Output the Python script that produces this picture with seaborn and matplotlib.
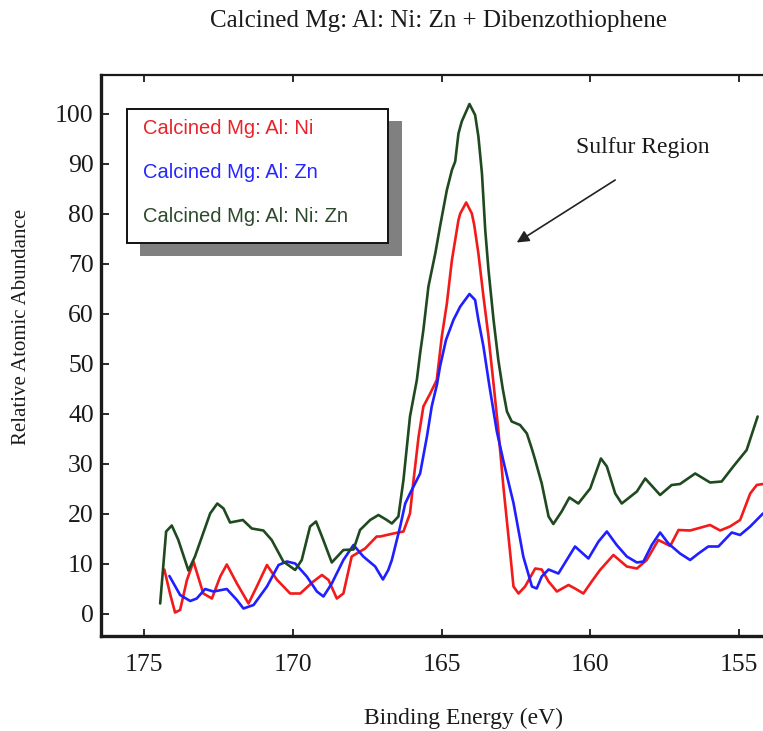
import matplotlib
matplotlib.use("Agg")
import matplotlib.pyplot as plt
from matplotlib.patches import Rectangle
import numpy as np
import pandas as pd
import seaborn as sns

# Binding energy (eV) and relative atomic abundance for each calcined sample
energy_ni = [174.32, 174.13, 173.96, 173.79, 173.56, 173.34, 173.01, 172.72, 172.44, 172.22,
             171.88, 171.49, 171.21, 170.87, 170.54, 170.09, 169.75, 169.31, 169.02, 168.80,
             168.52, 168.30, 168.02, 167.57, 167.18, 167.06, 166.62, 166.28, 166.06, 165.94,
             165.77, 165.61, 165.38, 165.16, 164.99, 164.82, 164.65, 164.43, 164.37, 164.17,
             163.98, 163.90, 163.76, 163.59, 163.42, 163.25, 163.09, 162.92, 162.69, 162.58,
             162.41, 162.19, 161.85, 161.63, 161.40, 161.12, 160.73, 160.51, 160.23, 159.95,
             159.67, 159.22, 158.77, 158.43, 158.10, 157.71, 157.31, 157.03, 156.64, 155.97,
             155.63, 155.30, 154.96, 154.62, 154.40, 154.19]
abund_ni = [8.9, 4.1, 0.3, 0.8, 6.8, 10.5, 4.1, 3.1, 7.5, 9.9,
            6.1, 2.1, 5.5, 9.8, 6.9, 4.1, 4.1, 6.5, 7.8, 6.8,
            3.1, 4.1, 11.5, 13.1, 15.5, 15.5, 16.1, 16.5, 20.1, 26.8,
            35.5, 41.5, 44.1, 46.8, 55.5, 62.1, 70.8, 78.8, 80.1, 82.3,
            80.1, 77.8, 72.1, 63.5, 55.5, 46.0, 36.8, 25.5, 12.1, 5.5,
            4.1, 5.5, 9.1, 8.9, 6.5, 4.5, 5.8, 5.1, 4.1, 6.5,
            8.8, 11.8, 9.5, 9.1, 10.8, 14.8, 13.6, 16.8, 16.7, 17.8,
            16.7, 17.5, 18.8, 24.1, 25.8, 26.0]

energy_zn = [174.15, 173.79, 173.45, 173.23, 172.95, 172.67, 172.22, 171.88, 171.66, 171.32,
             170.87, 170.48, 170.20, 169.92, 169.53, 169.19, 168.97, 168.69, 168.30, 167.96,
             167.63, 167.23, 166.97, 166.79, 166.67, 166.39, 166.22, 166.06, 165.72, 165.49,
             165.33, 165.15, 165.05, 164.85, 164.60, 164.37, 164.06, 163.87, 163.76, 163.59,
             163.40, 163.14, 162.90, 162.58, 162.25, 161.96, 161.80, 161.63, 161.40, 161.07,
             160.79, 160.51, 160.06, 159.72, 159.44, 159.11, 158.77, 158.43, 158.21, 157.93,
             157.65, 157.37, 156.98, 156.64, 156.36, 156.03, 155.69, 155.24, 154.96, 154.62,
             154.19]
abund_zn = [7.6, 3.8, 2.6, 3.1, 5.0, 4.5, 5.0, 2.8, 1.1, 1.8,
            5.5, 9.8, 10.5, 10.1, 7.5, 4.5, 3.5, 6.1, 10.8, 13.8,
            11.5, 9.5, 6.9, 8.8, 10.8, 17.5, 22.1, 24.1, 28.1, 35.5,
            41.5, 46.0, 49.5, 54.8, 58.8, 61.5, 64.0, 62.8, 58.8, 53.5,
            46.0, 36.5, 30.1, 22.2, 11.5, 5.5, 5.1, 7.5, 8.9, 8.1,
            10.8, 13.5, 11.1, 14.5, 16.5, 13.8, 11.5, 10.3, 10.5, 13.8,
            16.3, 14.1, 12.1, 10.8, 12.1, 13.5, 13.5, 16.3, 15.8, 17.5,
            20.1]

energy_nizn = [174.46, 174.26, 174.07, 173.85, 173.51, 173.29, 172.78, 172.54, 172.33, 172.11,
               171.68, 171.38, 170.99, 170.71, 170.32, 169.92, 169.70, 169.42, 169.22, 169.02,
               168.69, 168.30, 167.96, 167.74, 167.40, 167.12, 166.84, 166.67, 166.45, 166.28,
               166.06, 165.83, 165.72, 165.61, 165.44, 165.21, 165.05, 164.82, 164.65, 164.54,
               164.43, 164.32, 164.06, 163.87, 163.76, 163.64, 163.53, 163.42, 163.25, 163.09,
               162.94, 162.80, 162.64, 162.36, 162.13, 161.96, 161.85, 161.63, 161.40, 161.24,
               160.96, 160.70, 160.40, 160.00, 159.64, 159.44, 159.16, 158.94, 158.43, 158.15,
               157.65, 157.26, 156.98, 156.47, 155.97, 155.58, 155.19, 154.74, 154.37]
abund_nizn = [2.1, 16.5, 17.7, 14.8, 8.7, 11.5, 20.1, 22.1, 21.1, 18.3,
              18.8, 17.1, 16.7, 14.8, 10.5, 8.8, 10.8, 17.5, 18.5, 15.5,
              10.3, 12.8, 12.9, 16.8, 18.8, 19.8, 18.8, 18.1, 19.5, 26.8,
              39.5, 46.8, 52.1, 56.8, 65.5, 72.1, 77.5, 84.8, 88.8, 90.5,
              96.1, 98.5, 102.0, 99.8, 95.5, 88.1, 76.8, 68.8, 58.8, 50.8,
              45.0, 40.5, 38.5, 37.8, 36.1, 33.0, 30.8, 26.1, 19.5, 18.0,
              20.5, 23.3, 22.1, 25.1, 31.1, 29.5, 24.1, 22.1, 24.5, 27.1,
              23.8, 25.8, 26.0, 28.1, 26.3, 26.5, 29.5, 32.8, 39.5]

sample_labels = ["Calcined Mg: Al: Ni", "Calcined Mg: Al: Zn", "Calcined Mg: Al: Ni: Zn"]
line_colors = ["#f21a1a", "#1f1fff", "#1f4a1f"]
text_colors = ["#e8232a", "#2626ff", "#2d4a2d"]
x_ticks = [175, 170, 165, 160, 155]
y_ticks = [0, 10, 20, 30, 40, 50, 60, 70, 80, 90, 100]

frames = []
for lab, e, a in zip(sample_labels,
                     [energy_ni, energy_zn, energy_nizn],
                     [abund_ni, abund_zn, abund_nizn]):
    frames.append(pd.DataFrame({"energy": e, "abundance": a, "sample": lab}))
spectra = pd.concat(frames, ignore_index=True)

sns.set_theme(style="white")
plt.rcParams["font.family"] = ["Liberation Serif", "DejaVu Serif"]

W, H = 763, 731
fig = plt.figure(figsize=(W / 100, H / 100), dpi=100)


def fx(px):
    return px / W


def fy(py):
    return 1 - py / H


ax = fig.add_axes([fx(100.7), fy(636), fx(763 - 100.7), (636 - 75) / H])

sns.lineplot(data=spectra, x="energy", y="abundance", hue="sample",
             palette=dict(zip(sample_labels, line_colors)), hue_order=sample_labels,
             sort=False, estimator=None, legend=False, linewidth=1.9, ax=ax)
for ln in ax.get_lines():
    ln.set_solid_joinstyle("round")
    ln.set_solid_capstyle("round")

ax.set_xlim(176.46, 154.19)
ax.set_ylim(-4.4, 107.8)
ax.set_xticks(x_ticks)
ax.set_yticks(y_ticks)
ax.set_xlabel("")
ax.set_ylabel("")
ax.tick_params(axis="x", which="both", direction="in", length=5, width=1.3,
               top=True, bottom=True, labelsize=18.5, pad=13, colors="#1a1a1a")
ax.tick_params(axis="y", which="both", direction="in", length=6, width=1.3,
               left=True, labelsize=18.5, pad=5, colors="#1a1a1a")

ax.spines["right"].set_visible(False)
ax.spines["left"].set_linewidth(2.4)
ax.spines["bottom"].set_linewidth(2.4)
ax.spines["top"].set_linewidth(1.6)
for s in ("left", "bottom", "top"):
    ax.spines[s].set_color("#1a1a1a")

# Pointer to the S 2p peak
ax.annotate("", xy=(162.47, 74.3), xytext=(159.16, 86.8),
            arrowprops=dict(arrowstyle="-|>", color="#222222", lw=1.2,
                            mutation_scale=18, shrinkA=0, shrinkB=0))
ax.text(158.24, 93.2, "Sulfur Region", ha="center", va="center",
        fontsize=17, color="#1a1a1a")

# Titles
fig.text(fx(438), fy(21), "Calcined Mg: Al: Ni: Zn + Dibenzothiophene",
         ha="center", va="center", fontsize=18, color="#1a1a1a")
fig.text(fx(463.5), fy(718), "Binding Energy (eV)", ha="center", va="center",
         fontsize=17, color="#1a1a1a")
fig.text(fx(22), fy(326.5), "Relative Atomic Abundance", ha="center", va="center",
         rotation=90, fontsize=15, color="#1a1a1a")

# Key box with drop shadow
shadow = Rectangle((fx(140), fy(256)), fx(402 - 140), (256 - 121) / H,
                   transform=fig.transFigure, facecolor="#808080",
                   edgecolor="none", zorder=5)
box = Rectangle((fx(126.7), fy(243)), fx(388 - 126.7), (243 - 109) / H,
                transform=fig.transFigure, facecolor="white",
                edgecolor="#111111", linewidth=1.4, zorder=6)
fig.add_artist(shadow)
fig.add_artist(box)
for lab, col, yy in zip(sample_labels, text_colors, [128, 173, 217]):
    fig.text(fx(143), fy(yy), lab, ha="left", va="center", fontsize=14.5,
             color=col, family=["Liberation Sans", "DejaVu Sans"], zorder=7)

fig.savefig("out.png", dpi=100)
